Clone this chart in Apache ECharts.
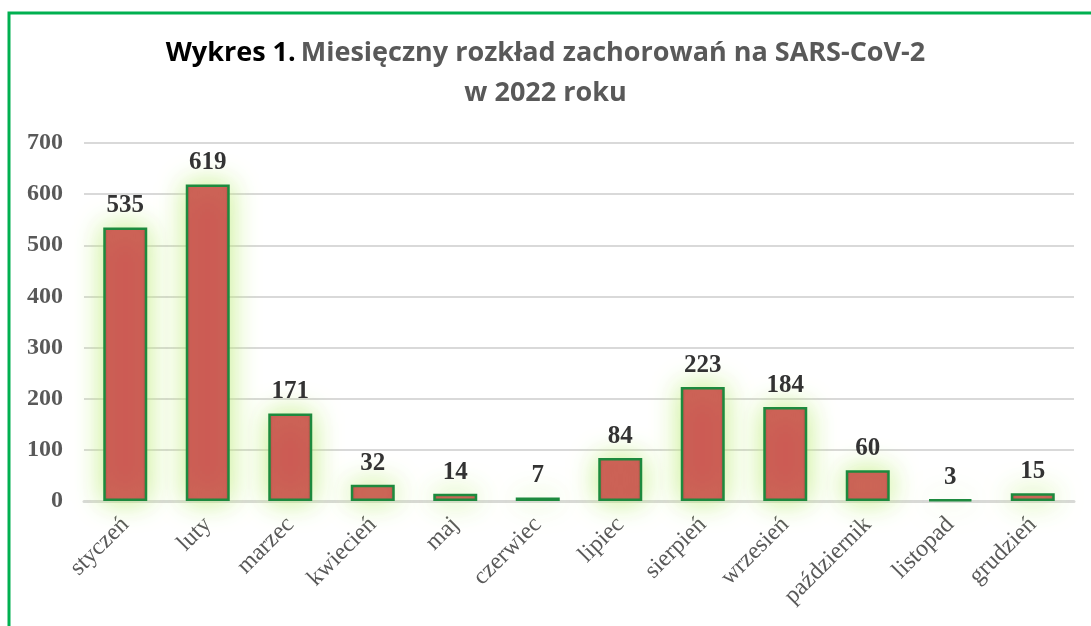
<!DOCTYPE html>
<html>
<head>
<meta charset="utf-8">
<script src="https://cdn.jsdelivr.net/npm/echarts@6/dist/echarts.min.js"></script>
<style>
  html, body { margin: 0; padding: 0; background: #fff; }
  #chart { width: 1091px; height: 626px; }
</style>
</head>
<body>
<div id="chart"></div>
<script>
// dane z wykresu
var miesiace = ['styczeń', 'luty', 'marzec', 'kwiecień', 'maj', 'czerwiec', 'lipiec',
                'sierpień', 'wrzesień', 'październik', 'listopad', 'grudzień'];
var zachorowania = [535, 619, 171, 32, 14, 7, 84, 223, 184, 60, 3, 15];
var osY = [0, 100, 200, 300, 400, 500, 600, 700];

var myChart = echarts.init(document.getElementById('chart'));

var option = {
    backgroundColor: '#ffffff',
    animation: false,
    title: {
        text: '{a|Wykres 1.} {b|Miesięczny rozkład zachorowań na SARS-CoV-2}\n{b|w 2022 roku}',
        left: 'center',
        top: 28,
        textStyle: {
            rich: {
                a: { fontFamily: 'Open Sans', fontWeight: 'bold', fontSize: 27, color: '#000000', lineHeight: 40 },
                b: { fontFamily: 'Open Sans', fontWeight: 'bold', fontSize: 27, color: '#595959', lineHeight: 40 }
            }
        }
    },
    // zielona ramka
    graphic: [
        { type: 'rect', shape: { x: 9, y: 13, width: 1200, height: 700 },
          style: { fill: 'none', stroke: '#00b050', lineWidth: 3 } }
    ],
    grid: { left: 84, right: 17, top: 143, bottom: 125 },
    xAxis: {
        type: 'category',
        data: miesiace,
        axisLine: { lineStyle: { color: '#d9d9d9', width: 3 } },
        axisTick: { show: false },
        axisLabel: {
            rotate: 45,
            margin: 20,
            fontFamily: 'Liberation Serif',
            fontSize: 24,
            color: '#595959'
        }
    },
    yAxis: {
        type: 'value',
        min: osY[0],
        max: osY[osY.length - 1],
        interval: 100,
        axisLine: { show: false },
        axisTick: { show: false },
        splitLine: { lineStyle: { color: '#d9d9d9', width: 2 } },
        axisLabel: {
            margin: 21,
            fontFamily: 'Liberation Serif',
            fontWeight: 'bold',
            fontSize: 24,
            color: '#595959'
        }
    },
    series: [
        {
            name: 'zachorowania',
            type: 'bar',
            data: zachorowania,
            barWidth: 44,
            itemStyle: {
                color: new echarts.graphic.LinearGradient(0, 0, 1, 0, [
                    { offset: 0, color: '#a8403e' },
                    { offset: 0.1, color: '#cd5553' },
                    { offset: 0.9, color: '#cd5553' },
                    { offset: 1, color: '#a8403e' }
                ]),
                borderColor: '#1d8a3e',
                borderWidth: 2.5,
                shadowColor: 'rgba(190,238,120,0.9)',
                shadowBlur: 28
            },
            label: {
                show: true,
                position: 'top',
                distance: 9,
                fontFamily: 'Liberation Serif',
                fontWeight: 'bold',
                fontSize: 25,
                color: '#333333'
            }
        }
    ]
};

myChart.setOption(option);
</script>
</body>
</html>
